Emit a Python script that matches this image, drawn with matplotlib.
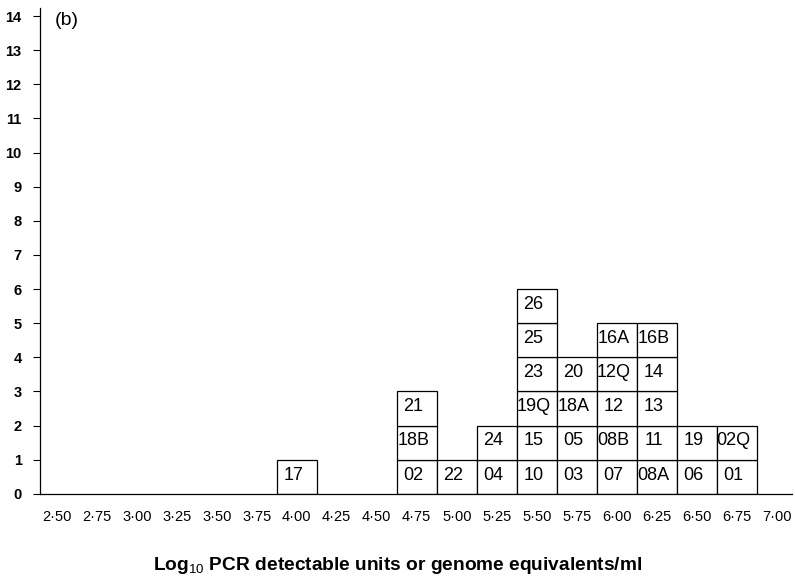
import numpy as np
import matplotlib.pyplot as plt

plt.rcParams['font.family'] = ['Liberation Sans', 'DejaVu Sans']
plt.rcParams['mathtext.fontset'] = 'custom'
plt.rcParams['mathtext.rm'] = 'Liberation Sans'
plt.rcParams['mathtext.bf'] = 'Liberation Sans:bold'

# log10 value of each column and the sample codes stacked in it (bottom -> top)
col_x = [4.00, 4.75, 5.00, 5.25, 5.50, 5.75, 6.00, 6.25, 6.50, 6.75]
col_labels = [
    ['17'],
    ['02', '18B', '21'],
    ['22'],
    ['04', '24'],
    ['10', '15', '19Q', '23', '25', '26'],
    ['03', '05', '18A', '20'],
    ['07', '08B', '12', '12Q', '16A'],
    ['08A', '11', '13', '14', '16B'],
    ['06', '19'],
    ['01', '02Q'],
]
xticks = np.arange(2.50, 7.001, 0.25)
xticklabels = ['%.2f' % v for v in xticks]
xticklabels = [s.replace('.', '\u00b7') for s in xticklabels]

fig = plt.figure(figsize=(7.95, 5.83), dpi=100)
ax = fig.add_axes([0.050, 0.153, 0.946, 0.833])

for x, labs in zip(col_x, col_labels):
    for i, lab in enumerate(labs):
        ax.bar(x, 1, bottom=i, width=0.25, facecolor='white',
               edgecolor='black', linewidth=0.9, zorder=2)
        ax.text(x - 0.02, i + 0.55, lab, ha='center', va='center',
                fontsize=13, zorder=3)

ax.set_xlim(2.394, 7.094)
ax.set_ylim(0, 14.23)
ax.set_xticks(xticks)
ax.set_xticklabels(xticklabels, fontsize=10.5)
ax.set_yticks(range(0, 15))
ax.tick_params(axis='x', length=0, pad=12)
ax.tick_params(axis='y', length=5, width=0.8, direction='out', pad=8, labelsize=10.5)
for lbl in ax.get_yticklabels():
    lbl.set_fontweight('bold')
ax.spines['top'].set_visible(False)
ax.spines['right'].set_visible(False)
ax.spines['left'].set_linewidth(0.9)
ax.spines['bottom'].set_linewidth(0.9)

ax.text(2.4875, 13.86, '(b)', fontsize=14, va='center', ha='left')
fig.text(0.5, 1 - 565 / 583, r'Log$_{10}$ PCR detectable units or genome equivalents/ml',
         fontsize=13.8, fontweight='bold', ha='center', va='center')

fig.savefig('out.png', dpi=100)
